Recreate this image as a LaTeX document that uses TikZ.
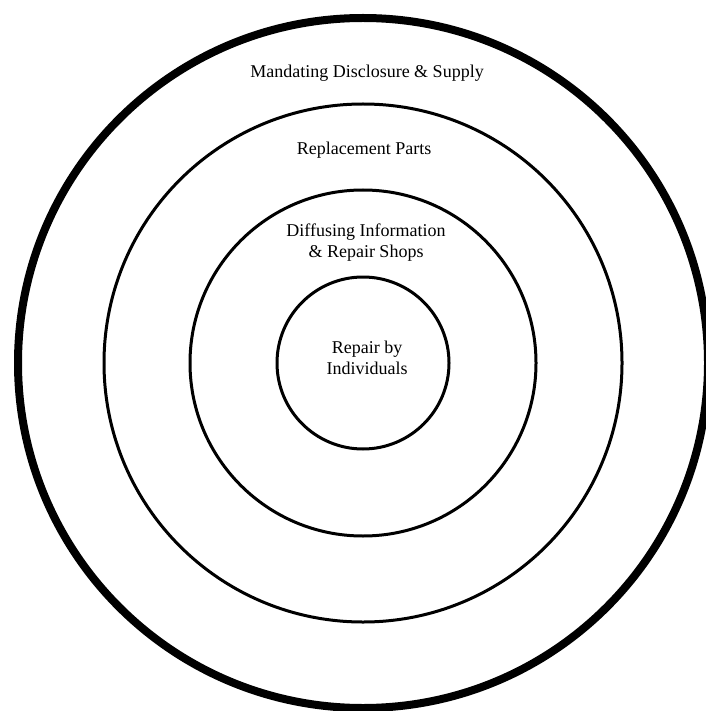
\documentclass[tikz,border=0pt]{standalone}
\usepackage{fontspec}
\setmainfont{Liberation Serif}
\usetikzlibrary{positioning}

\begin{document}
\begin{tikzpicture}[x=1pt, y=1pt,
    ring/.style={draw, line width=3pt},
    outerring/.style={draw, line width=8pt},
    lbl/.style={align=center, inner sep=0pt, font=\fontsize{18}{21}\selectfont}]
            \useasboundingbox (0,-711) rectangle (705,0);
            \coordinate (c) at (363,-363);

            % Rings
            \draw[outerring] (c) circle (345);
            \draw[ring] (c) circle (259);
            \draw[ring] (c) circle (173);
            \draw[ring] (c) circle (86);

            % Labels
            \node[lbl] (mandate) at ([shift={(4,290)}]c) {Mandating Disclosure \& Supply};
            \node[lbl] (parts) at ([shift={(1,213)}]c) {Replacement Parts};
            \node[lbl] (diffuse) at ([shift={(3,120)}]c) {Diffusing Information\\\& Repair Shops};
            \node[lbl] (indiv) at ([shift={(4,5)}]c) {Repair by\\Individuals};
        \end{tikzpicture}
\end{document}
